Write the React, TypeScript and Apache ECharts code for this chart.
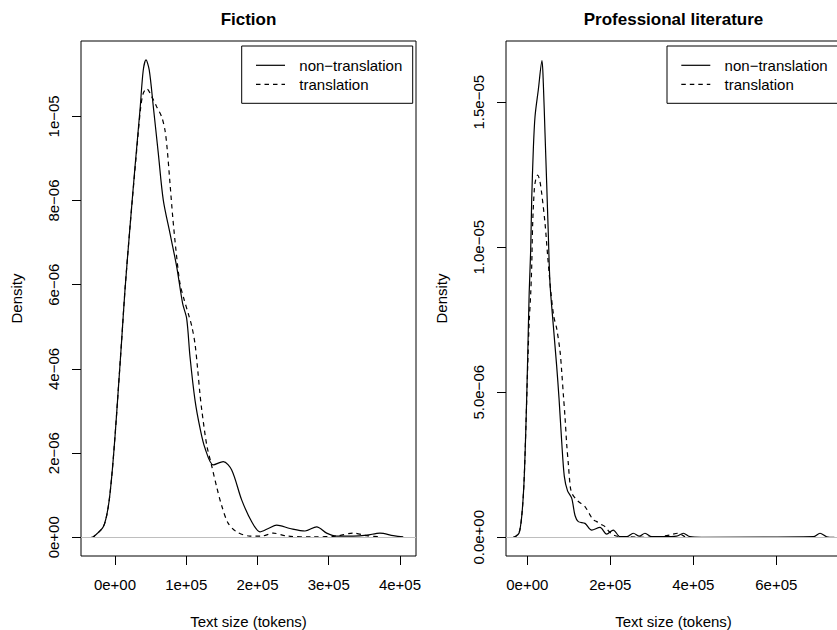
import React, { useEffect, useRef } from "react";
import * as echarts from "echarts";

const FONT = '"Liberation Sans", Arial, Helvetica, sans-serif';
const X_UNIT = 1000; // x arrays are in thousands of tokens
const Y_UNIT = 1e-6; // y arrays are in units of 1e-6

const panelTitles = ["Fiction", "Professional literature"];
const legendNames = ["non\u2212translation", "translation"];
const xAxisName = "Text size (tokens)";
const yAxisName = "Density";

const fictionNonX = [-33, -30.5, -16.4, -9.4, -4.6, 0, 4.6, 9.4, 14.0, 21.1, 28.1, 35.1, 39.7, 43.5, 48.1, 53.8, 60.8, 67.8, 77.2, 86.6, 95.0, 100.6, 105.3, 112.3, 119.3, 126.3, 138.0, 152.0, 163.8, 177.8, 191.9, 203.5, 215.2, 226.9, 245.6, 266.7, 283.1, 297.1, 311.1, 334.5, 353.3, 371.9, 390.6, 404.6];
const fictionNonY = [0, 0.01, 0.25, 0.73, 1.44, 2.39, 3.5, 4.69, 5.87, 7.38, 8.8, 10.15, 11.1, 11.34, 11.1, 10.23, 9.12, 8.01, 7.22, 6.43, 5.55, 5.2, 4.29, 3.26, 2.6, 2.12, 1.72, 1.8, 1.6, 0.89, 0.37, 0.13, 0.21, 0.29, 0.21, 0.15, 0.25, 0.1, 0.03, 0.03, 0.05, 0.1, 0.04, 0.01];

const fictionTrX = [-33, -30.5, -16.4, -9.4, -4.6, 0, 4.6, 9.4, 14.0, 21.1, 30.5, 36.0, 39.7, 44.5, 51.5, 58.5, 65.5, 70.2, 73.4, 77.2, 81.0, 85.6, 91.2, 97.0, 104.0, 108.0, 112.3, 116.0, 119.3, 122.0, 128.7, 135.7, 142.7, 149.8, 159.0, 170.8, 189.5, 205.9, 222.2, 241.0, 278.3, 311.1, 334.5, 353.3, 371.9];
const fictionTrY = [0, 0.01, 0.25, 0.73, 1.44, 2.39, 3.5, 4.69, 5.87, 7.38, 9.2, 10.2, 10.55, 10.66, 10.47, 10.23, 9.99, 9.67, 9.2, 8.41, 7.62, 6.82, 6.03, 5.65, 5.25, 5.0, 4.6, 4.0, 3.4, 3.0, 2.2, 1.7, 1.2, 0.75, 0.33, 0.13, 0.03, 0.03, 0.1, 0.03, 0.01, 0.03, 0.1, 0.04, 0.01];

const profNonX = [-34, -29.6, -20.0, -13.5, -8.0, -3.1, 1.0, 4.5, 8.2, 10.6, 14.5, 18.6, 26.5, 35.4, 38.6, 42.7, 46.7, 50.6, 54.7, 62.7, 70.8, 76.4, 82.9, 89.2, 97.0, 107.0, 115.0, 122.9, 139.0, 155.2, 175.2, 191.3, 207.2, 223.4, 239.5, 255.4, 269.9, 283.6, 299.8, 327.7, 360.0, 375.9, 392.0, 420.0, 689.2, 705.3, 721.4, 740.0];
const profNonY = [0, 0.02, 0.14, 0.71, 1.86, 3.93, 6.23, 8.4, 9.91, 11.63, 13.36, 14.5, 15.42, 16.43, 15.66, 13.93, 12.21, 10.48, 8.76, 7.3, 5.9, 4.8, 3.3, 2.1, 1.6, 1.35, 0.75, 0.54, 0.48, 0.25, 0.34, 0.11, 0.25, 0.02, 0.02, 0.14, 0.04, 0.14, 0.02, 0.02, 0.04, 0.14, 0.02, 0, 0.02, 0.14, 0.02, 0];

const profTrX = [-34, -29.6, -20.0, -13.5, -8.0, -3.1, 1.0, 4.5, 8.2, 10.6, 13.0, 16.9, 20.5, 25.1, 30.0, 34.7, 42.7, 49.2, 57.1, 64.0, 70.8, 79.0, 83.0, 87.0, 90.8, 95.0, 98.8, 103.6, 108.0, 119.0, 130.0, 139.0, 150.0, 159.0, 167.2, 177.0, 187.2, 197.0, 207.2, 220.0, 239.5, 287.7, 320.0, 343.9, 363.9, 380.0, 395.0];
const profTrY = [0, 0.02, 0.14, 0.71, 1.86, 3.93, 5.9, 7.4, 8.4, 9.33, 10.83, 11.98, 12.35, 12.49, 12.3, 11.86, 10.83, 9.68, 8.41, 7.6, 7.2, 6.4, 5.7, 4.9, 4.16, 3.2, 2.55, 1.74, 1.5, 1.29, 1.16, 1.06, 0.8, 0.6, 0.54, 0.45, 0.37, 0.2, 0.08, 0.03, 0.02, 0, 0.02, 0.08, 0.14, 0.02, 0];

const fictionXTicks = [0, 100000, 200000, 300000, 400000];
const fictionXLabels = ["0e+00", "1e+05", "2e+05", "3e+05", "4e+05"];
const fictionYTicks = [0, 2e-6, 4e-6, 6e-6, 8e-6, 1e-5];
const fictionYLabels = ["0e+00", "2e\u221206", "4e\u221206", "6e\u221206", "8e\u221206", "1e\u221205"];
const profXTicks = [0, 200000, 400000, 600000];
const profXLabels = ["0e+00", "2e+05", "4e+05", "6e+05"];
const profYTicks = [0, 5e-6, 1e-5, 1.5e-5];
const profYLabels = ["0.0e+00", "5.0e\u221206", "1.0e\u221205", "1.5e\u221205"];

const fictionXRange = [-47700, 422500];
const fictionYRange = [-0.444e-6, 11.79e-6];
const profXRange = [-51300, 755900];
const profYRange = [-0.645e-6, 17.11e-6];

const zip = (xs: number[], ys: number[]) => xs.map((x, i) => [x * X_UNIT, ys[i] * Y_UNIT]);

const labelFor = (ticks: number[], labels: string[]) => (v: number) => {
  let best = 0;
  let bd = Infinity;
  ticks.forEach((t, i) => {
    const d = Math.abs(t - v);
    if (d < bd) { bd = d; best = i; }
  });
  return labels[best];
};

const textBase = { fontSize: 15, fontFamily: FONT, color: "#000" };

function xAxisCfg(gridIndex: number, range: number[], ticks: number[], labels: string[]) {
  return {
    type: "value", gridIndex, min: range[0], max: range[1],
    name: xAxisName, nameLocation: "middle", nameGap: 57.5, nameTextStyle: { ...textBase },
    axisLine: { show: false, onZero: false },
    axisTick: { show: true, inside: false, length: 9, customValues: ticks, lineStyle: { color: "#000", width: 1 } },
    axisLabel: { show: true, customValues: ticks, formatter: labelFor(ticks, labels), margin: 21, ...textBase },
    splitLine: { show: false },
  };
}

function yAxisCfg(gridIndex: number, range: number[], ticks: number[], labels: string[]) {
  return {
    type: "value", gridIndex, min: range[0], max: range[1],
    name: yAxisName, nameLocation: "middle", nameRotate: 90, nameGap: 57, nameTextStyle: { ...textBase },
    axisLine: { show: false, onZero: false },
    axisTick: { show: true, inside: false, length: 9, customValues: ticks, lineStyle: { color: "#000", width: 1 } },
    axisLabel: { show: true, customValues: ticks, rotate: 90, formatter: labelFor(ticks, labels), margin: 20, ...textBase },
    splitLine: { show: false },
  };
}

function lineSeries(idx: number, data: number[][], dashed: boolean, zeroLine: boolean) {
  const s: any = {
    type: "line", xAxisIndex: idx, yAxisIndex: idx, data,
    symbol: "none", showSymbol: false, smooth: 0.3, clip: true,
    lineStyle: { color: "#000", width: 1.2, type: dashed ? [4.5, 4] : "solid" },
    emphasis: { disabled: true },
  };
  if (zeroLine) {
    s.markLine = { silent: true, symbol: "none", label: { show: false }, lineStyle: { color: "#bebebe", type: "solid", width: 1 }, data: [{ yAxis: 0 }] };
  }
  return s;
}

function legendGraphic(x0: number, y0: number) {
  return [
    { type: "rect", shape: { x: x0, y: y0, width: 171, height: 57.3 }, style: { fill: "#fff", stroke: "#000", lineWidth: 1 }, z: 10 },
    { type: "line", shape: { x1: x0 + 14.3, y1: y0 + 19.3, x2: x0 + 43.3, y2: y0 + 19.3 }, style: { stroke: "#000", lineWidth: 1.2 }, z: 11 },
    { type: "line", shape: { x1: x0 + 14.3, y1: y0 + 38.3, x2: x0 + 43.3, y2: y0 + 38.3 }, style: { stroke: "#000", lineWidth: 1.2, lineDash: [4.5, 4] }, z: 11 },
    { type: "text", x: x0 + 57.6, y: y0 + 19.3, style: { text: legendNames[0], fontSize: 15, fontFamily: FONT, fill: "#000", align: "left", verticalAlign: "middle" }, z: 11 },
    { type: "text", x: x0 + 57.6, y: y0 + 38.3, style: { text: legendNames[1], fontSize: 15, fontFamily: FONT, fill: "#000", align: "left", verticalAlign: "middle" }, z: 11 },
  ];
}

function titleGraphic(cx: number, text: string) {
  return { type: "text", x: cx, y: 19.2, style: { text, fontSize: 17, fontWeight: "bold", fontFamily: FONT, fill: "#000", align: "center", verticalAlign: "middle" } };
}

export default function App() {
  const ref = useRef<HTMLDivElement>(null);
  useEffect(() => {
    if (!ref.current) return;
    const chart = echarts.init(ref.current, null, { renderer: "svg" });
    const gridBase = { top: 41, width: 335, height: 515, show: true, borderColor: "#000", borderWidth: 1, backgroundColor: "transparent", containLabel: false, outerBoundsMode: "none" };
    const option: any = {
      animation: false,
      backgroundColor: "#fff",
      textStyle: { fontFamily: FONT },
      grid: [
        { ...gridBase, left: 81 },
        { ...gridBase, left: 506 },
      ],
      xAxis: [xAxisCfg(0, fictionXRange, fictionXTicks, fictionXLabels), xAxisCfg(1, profXRange, profXTicks, profXLabels)],
      yAxis: [yAxisCfg(0, fictionYRange, fictionYTicks, fictionYLabels), yAxisCfg(1, profYRange, profYTicks, profYLabels)],
      series: [
        lineSeries(0, zip(fictionNonX, fictionNonY), false, true),
        lineSeries(0, zip(fictionTrX, fictionTrY), true, false),
        lineSeries(1, zip(profNonX, profNonY), false, true),
        lineSeries(1, zip(profTrX, profTrY), true, false),
      ],
      graphic: [
        titleGraphic(248.5, panelTitles[0]),
        titleGraphic(673.5, panelTitles[1]),
        ...legendGraphic(241.7, 46),
        ...legendGraphic(667, 46),
      ],
    };
    chart.setOption(option);
    return () => chart.dispose();
  }, []);
  return <div ref={ref} style={{ position: "absolute", left: 0, top: 0, width: 837, height: 630, background: "#fff" }} />;
}
